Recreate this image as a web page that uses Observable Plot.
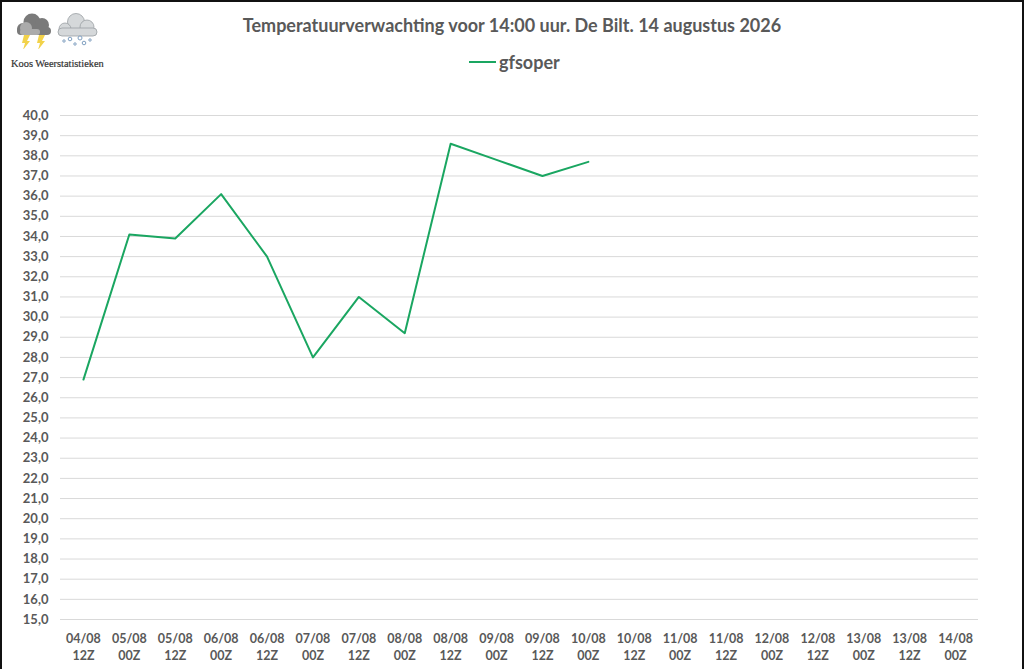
<!DOCTYPE html>
<html>
<head>
<meta charset="utf-8">
<script src="https://cdn.jsdelivr.net/npm/d3@7"></script>
<script src="https://cdn.jsdelivr.net/npm/@observablehq/plot@0.6"></script>
<style>
html,body{margin:0;padding:0;background:#fff;overflow:hidden}
#page{position:relative;width:1024px;height:669px;overflow:hidden;font-family:Lato,"Open Sans",sans-serif;color:#595959}
#frame{position:absolute;left:0;top:0;width:1020px;height:680px;border:2px solid #111;pointer-events:none;z-index:3}
#title{position:absolute;left:0;top:13px;width:1024px;text-align:center;font-size:18px;font-weight:700;line-height:24px}
#legend{position:absolute;left:469px;top:50px;height:24px;display:flex;align-items:center;font-size:18px;font-weight:700}
#legend i{display:block;width:27px;height:2px;background:#1aa661;margin-right:3px}
#logo{position:absolute;left:11px;top:58px;font-family:"Liberation Serif",serif;font-weight:400;font-size:10.4px;color:#333;line-height:12px;-webkit-text-stroke:.2px #333}
#icons{position:absolute;left:12px;top:11px}
#chart{position:absolute;left:0;top:90px}
#chart svg{display:block}
</style>
</head>
<body>
<div id="page">
  <svg id="icons" width="90" height="38" viewBox="0 0 90 38">
    <g fill="#f2d24a"><path d="M12 24h6l-3 6h3l-7 9 2-7h-3z"/><path d="M27 24h6l-3 6h3l-7 9 2-7h-3z"/></g>
    <g fill="#7a7a7a"><circle cx="20" cy="11" r="8.5"/><circle cx="30" cy="14" r="7"/><circle cx="11" cy="18" r="6"/><rect x="5" y="16" width="34" height="8" rx="4"/></g>
    <g fill="#ababab"><circle cx="14" cy="17" r="6"/><rect x="8" y="18" width="20" height="6" rx="3"/></g>
    <g fill="#d5d8da" stroke="#9a9fa3" stroke-width=".8"><circle cx="64" cy="11" r="8.5"/><circle cx="75" cy="16" r="7"/><circle cx="53" cy="18" r="6"/><rect x="46" y="17" width="39" height="8" rx="4"/></g>
    <g fill="#fff" stroke="#7f9fc0"><circle cx="52" cy="30" r="1.2"/><circle cx="58" cy="28" r="1.8"/><circle cx="63" cy="33" r="1.2"/><circle cx="68" cy="27" r="2"/><circle cx="72" cy="32" r="1.8"/><circle cx="78" cy="29" r="1.2"/></g>
  </svg>
  <div id="logo">Koos Weerstatistieken</div>
  <div id="title">Temperatuurverwachting voor 14:00 uur. De Bilt. 14 augustus 2026</div>
  <div id="legend"><i></i><span>gfsoper</span></div>
  <div id="chart"></div>
  <div id="frame"></div>
</div>
<script>
const runLabels = ["04/08\n12Z","05/08\n00Z","05/08\n12Z","06/08\n00Z","06/08\n12Z","07/08\n00Z","07/08\n12Z","08/08\n00Z","08/08\n12Z","09/08\n00Z","09/08\n12Z","10/08\n00Z","10/08\n12Z","11/08\n00Z","11/08\n12Z","12/08\n00Z","12/08\n12Z","13/08\n00Z","13/08\n12Z","14/08\n00Z"];
const gfsoper = [26.9,34.1,33.9,36.1,33.0,28.0,31.0,29.2,38.6,37.8,37.0,37.7];
const yTicks = d3.range(15,41);
const rows = gfsoper.map((v,i)=>({run:runLabels[i],temp:v}));
const plot = Plot.plot({
  width:1024,height:579,
  marginTop:25,marginBottom:50,marginLeft:60,marginRight:46,
  style:{fontFamily:'Lato,"Open Sans",sans-serif',background:"transparent",overflow:"visible"},
  x:{type:"point",domain:runLabels,label:null,padding:0.5,align:0.5,round:false},
  y:{domain:[15,40],label:null},
  marks:[
    Plot.gridY(yTicks,{stroke:"#d9d9d9",strokeOpacity:1,strokeWidth:1}),
    Plot.axisY({ticks:yTicks,tickSize:0,tickPadding:12,label:null,fontSize:13,fontWeight:700,fill:"#595959",tickFormat:d=>d.toFixed(1).replace(".",",")}),
    Plot.axisX({tickSize:0,tickPadding:11,label:null,fontSize:12.5,fontWeight:700,fill:"#595959",tickFormat:d=>d,lineHeight:1.36}),
    Plot.line(rows,{x:"run",y:"temp",stroke:"#1aa661",strokeWidth:2,curve:"linear"})
  ]
});
document.getElementById("chart").appendChild(plot);
</script>
</body>
</html>
